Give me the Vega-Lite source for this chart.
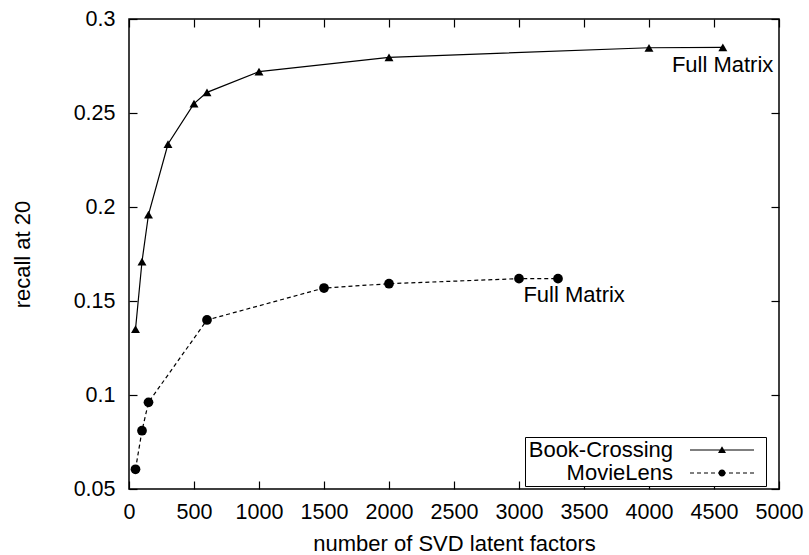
{
  "$schema": "https://vega.github.io/schema/vega-lite/v6.json",
  "width": 650,
  "height": 470,
  "autosize": "none",
  "padding": {"left": 129, "top": 19, "right": 30, "bottom": 66},
  "background": "white",
  "config": {
    "font": "Liberation Sans",
    "view": {"stroke": "black", "strokeWidth": 1.5},
    "axis": {
      "domain": false,
      "grid": false,
      "tickColor": "black",
      "tickWidth": 1.2,
      "tickSize": -8,
      "labelColor": "black",
      "labelFont": "Liberation Sans",
      "labelFontSize": 21.5,
      "titleColor": "black",
      "titleFont": "Liberation Sans",
      "titleFontSize": 22,
      "titleFontWeight": "normal"
    }
  },
  "datasets": {
    "series": [
      {"dataset": "Book-Crossing", "k": 50, "recall": 0.135},
      {"dataset": "Book-Crossing", "k": 100, "recall": 0.171},
      {"dataset": "Book-Crossing", "k": 150, "recall": 0.196},
      {"dataset": "Book-Crossing", "k": 300, "recall": 0.2335},
      {"dataset": "Book-Crossing", "k": 500, "recall": 0.255},
      {"dataset": "Book-Crossing", "k": 600, "recall": 0.261},
      {"dataset": "Book-Crossing", "k": 1000, "recall": 0.272},
      {"dataset": "Book-Crossing", "k": 2000, "recall": 0.2796},
      {"dataset": "Book-Crossing", "k": 4000, "recall": 0.2847},
      {"dataset": "Book-Crossing", "k": 4568, "recall": 0.2849},
      {"dataset": "MovieLens", "k": 50, "recall": 0.0605},
      {"dataset": "MovieLens", "k": 100, "recall": 0.081},
      {"dataset": "MovieLens", "k": 150, "recall": 0.0961},
      {"dataset": "MovieLens", "k": 600, "recall": 0.1399},
      {"dataset": "MovieLens", "k": 1500, "recall": 0.1569},
      {"dataset": "MovieLens", "k": 2000, "recall": 0.1592},
      {"dataset": "MovieLens", "k": 3000, "recall": 0.1619},
      {"dataset": "MovieLens", "k": 3300, "recall": 0.1619}
    ],
    "notes": [
      {"k": 4176, "recall": 0.2755, "text": "Full Matrix"},
      {"k": 3034, "recall": 0.1532, "text": "Full Matrix"}
    ]
  },
  "layer": [
    {
      "data": {"name": "series"},
      "transform": [{"filter": {"field": "dataset", "equal": "Book-Crossing"}}],
      "mark": {"type": "line", "color": "black", "strokeWidth": 1.2},
      "encoding": {
        "x": {"field": "k", "type": "quantitative",
              "scale": {"domain": [0, 5000], "nice": false},
              "axis": {"orient": "bottom", "values": [0, 500, 1000, 1500, 2000, 2500, 3000, 3500, 4000, 4500, 5000], "format": "d", "title": "number of SVD latent factors", "labelPadding": 20, "titlePadding": 11, "labelFlush": false, "labelOverlap": false}},
        "y": {"field": "recall", "type": "quantitative",
              "scale": {"domain": [0.05, 0.3], "nice": false, "zero": false},
              "axis": {"orient": "left", "values": [0.05, 0.1, 0.15, 0.2, 0.25, 0.3], "format": ".2~f", "title": "recall at 20", "labelPadding": 22, "titlePadding": 39, "labelFlush": false, "labelOverlap": false}}
      }
    },
    {
      "data": {"name": "series"},
      "transform": [{"filter": {"field": "dataset", "equal": "MovieLens"}}],
      "mark": {"type": "line", "color": "black", "strokeWidth": 1.2, "strokeDash": [4, 3]},
      "encoding": {
        "x": {"field": "k", "type": "quantitative", "axis": null},
        "y": {"field": "recall", "type": "quantitative", "axis": null}
      }
    },
    {
      "data": {"name": "series"},
      "transform": [{"filter": {"field": "dataset", "equal": "Book-Crossing"}}],
      "mark": {"type": "point", "shape": "triangle-up", "filled": true, "color": "black", "opacity": 1, "size": 80},
      "encoding": {
        "x": {"field": "k", "type": "quantitative",
              "axis": {"orient": "top", "values": [0, 500, 1000, 1500, 2000, 2500, 3000, 3500, 4000, 4500, 5000], "labels": false, "title": null}},
        "y": {"field": "recall", "type": "quantitative",
              "axis": {"orient": "right", "values": [0.05, 0.1, 0.15, 0.2, 0.25, 0.3], "labels": false, "title": null}}
      }
    },
    {
      "data": {"name": "series"},
      "transform": [{"filter": {"field": "dataset", "equal": "MovieLens"}}],
      "mark": {"type": "point", "shape": "circle", "filled": true, "color": "black", "opacity": 1, "size": 95},
      "encoding": {
        "x": {"field": "k", "type": "quantitative", "axis": null},
        "y": {"field": "recall", "type": "quantitative", "axis": null}
      }
    },
    {
      "data": {"name": "series"},
      "mark": {"type": "point", "filled": true, "color": "black", "opacity": 0, "size": 100},
      "encoding": {
        "x": {"field": "k", "type": "quantitative", "axis": null},
        "y": {"field": "recall", "type": "quantitative", "axis": null},
        "shape": {"field": "dataset", "type": "nominal",
                  "scale": {"domain": ["Book-Crossing", "MovieLens"],
                            "range": [
                              "M30.4,-0.11L43.2,-0.11L43.2,0.11L30.4,0.11ZM36.8,-0.75L37.6,0.6L36,0.6ZM44.6,0",
                              "M30.4,-0.11L31.2,-0.11L31.2,0.11L30.4,0.11ZM31.8,-0.11L32.6,-0.11L32.6,0.11L31.8,0.11ZM33.2,-0.11L34,-0.11L34,0.11L33.2,0.11ZM34.6,-0.11L35.4,-0.11L35.4,0.11L34.6,0.11ZM36,-0.11L37.6,-0.11L37.6,0.11L36,0.11ZM38.2,-0.11L39,-0.11L39,0.11L38.2,0.11ZM39.6,-0.11L40.4,-0.11L40.4,0.11L39.6,0.11ZM41,-0.11L41.8,-0.11L41.8,0.11L41,0.11ZM42.4,-0.11L43.2,-0.11L43.2,0.11L42.4,0.11ZM37.5,0A0.7,0.7,0,1,1,36.1,0A0.7,0.7,0,1,1,37.5,0ZM44.6,0"
                            ]},
                  "legend": {
                    "orient": "none",
                    "legendX": 396,
                    "legendY": 418,
                    "title": null,
                    "strokeColor": "black",
                    "fillColor": "white",
                    "padding": 2,
                    "cornerRadius": 0,
                    "labelFont": "Liberation Sans",
                    "labelFontSize": 22,
                    "labelColor": "black",
                    "labelAlign": "right",
                    "labelOffset": 124,
                    "labelLimit": 0,
                    "rowPadding": 1,
                    "symbolSize": 100,
                    "symbolOpacity": 1,
                    "symbolFillColor": "black"
                  }}
      }
    },
    {
      "data": {"name": "notes"},
      "mark": {"type": "text", "align": "left", "baseline": "middle", "font": "Liberation Sans", "fontSize": 22, "color": "black"},
      "encoding": {
        "x": {"field": "k", "type": "quantitative", "axis": null},
        "y": {"field": "recall", "type": "quantitative", "axis": null},
        "text": {"field": "text"}
      }
    }
  ],
  "resolve": {"axis": {"x": "independent", "y": "independent"}}
}
